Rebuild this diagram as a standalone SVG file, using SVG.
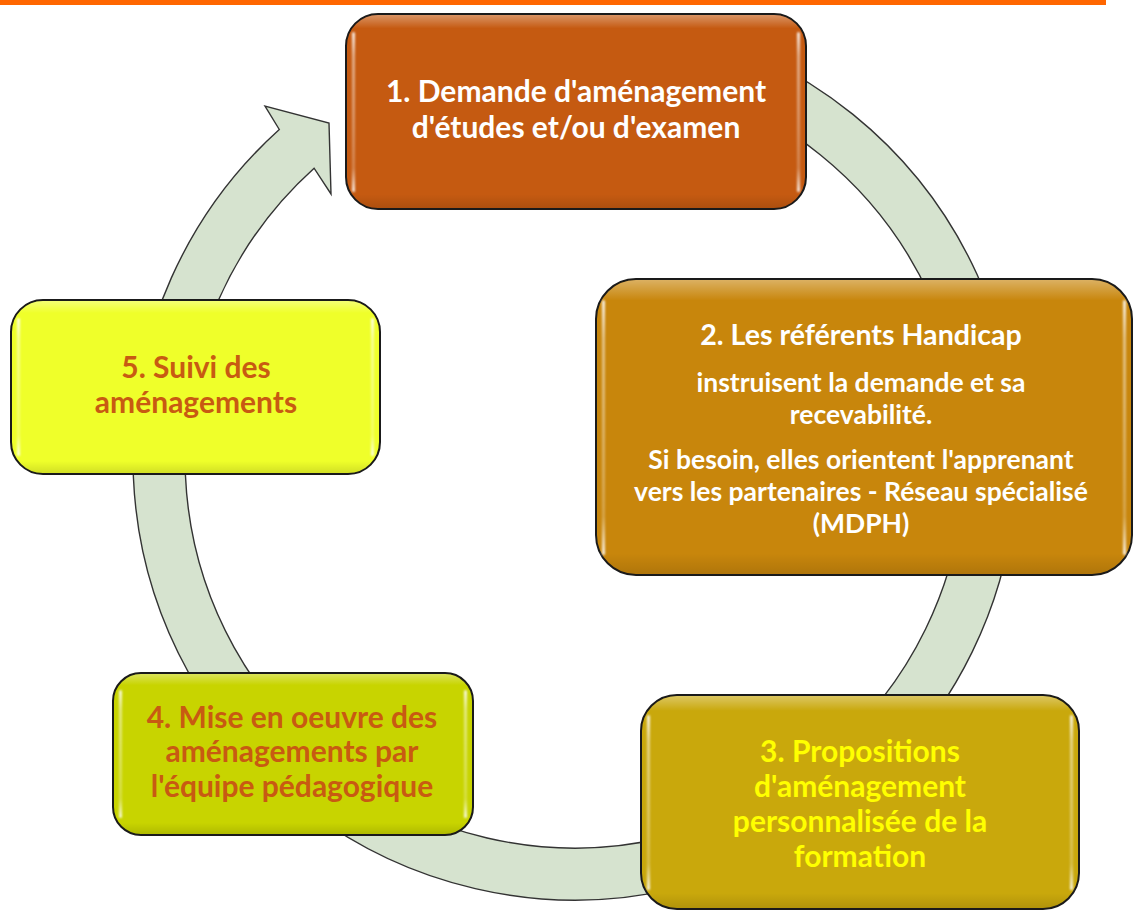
<svg xmlns="http://www.w3.org/2000/svg" width="1134" height="910" viewBox="0 0 1134 910">
<defs>
<style>
.box{stroke:#1a1a1a;stroke-width:2}
.t{font-family:Lato,"Open Sans",sans-serif;font-weight:700;text-anchor:middle}
.w{fill:#ffffff}
.y{fill:#ffff00}
.o{fill:#c85a12}
.ring{fill:#d6e3cf;stroke:#333333;stroke-width:1.4;stroke-linejoin:miter}
.hl{fill:url(#hlg)}
.top{fill:url(#topg)}
</style>
<linearGradient id="hlg" x1="0" y1="0" x2="0" y2="1">
<stop offset="0" stop-color="#ffffff" stop-opacity="0.9"/>
<stop offset="0.15" stop-color="#ffffff" stop-opacity="0.5"/>
<stop offset="0.85" stop-color="#ffffff" stop-opacity="0.25"/>
<stop offset="1" stop-color="#ffffff" stop-opacity="0.9"/>
</linearGradient>
<linearGradient id="topg" x1="0" y1="0" x2="0" y2="1">
<stop offset="0" stop-color="#ffffff" stop-opacity="0.35"/>
<stop offset="0.07" stop-color="#ffffff" stop-opacity="0"/>
<stop offset="0.93" stop-color="#000000" stop-opacity="0"/>
<stop offset="1" stop-color="#000000" stop-opacity="0.12"/>
</linearGradient>
<filter id="blur" x="-50%" y="-10%" width="200%" height="120%"><feGaussianBlur stdDeviation="1"/></filter>
</defs>
<rect x="0" y="0" width="1106" height="5" fill="#ff6600"/>
<g id="connectors">
<path class="ring" d="M689.4 31.1 A442 442 0 1 1 279.3 129.5 L265 106 L329 123 L331 194 L314.1 168.2 A390 390 0 1 0 675.9 81.3 Z"/>
</g>
<g id="node1">
<rect class="box" x="346" y="14" width="460" height="195" rx="32" fill="#c55a11"/>
<rect class="top" x="347" y="15" width="458" height="193" rx="31"/>
<rect class="hl" x="352" y="32" width="3" height="160" rx="1.5" filter="url(#blur)"/>
<rect class="hl" x="797" y="32" width="3" height="160" rx="1.5" filter="url(#blur)"/>
<text class="t w" font-size="30" x="576" y="102">1. Demande d'aménagement</text>
<text class="t w" font-size="30" x="576" y="138">d'études et/ou d'examen</text>
</g>
<g id="node2">
<rect class="box" x="596" y="279" width="536" height="296" rx="40" fill="#c8860c"/>
<rect class="top" x="597" y="280" width="534" height="294" rx="39"/>
<rect class="hl" x="602" y="300" width="3" height="255" rx="1.5" filter="url(#blur)"/>
<rect class="hl" x="1123" y="300" width="3" height="255" rx="1.5" filter="url(#blur)"/>
<text class="t w" font-size="28.6" x="861" y="345">2. Les référents Handicap</text>
<text class="t w" font-size="26.5" x="861" y="392">instruisent la demande et sa</text>
<text class="t w" font-size="26.5" x="861" y="424">recevabilité.</text>
<text class="t w" font-size="26.5" x="861" y="469">Si besoin, elles orientent l'apprenant</text>
<text class="t w" font-size="26.5" x="861" y="501">vers les partenaires - Réseau spécialisé</text>
<text class="t w" font-size="26.5" x="861" y="533">(MDPH)</text>
</g>
<g id="node3">
<rect class="box" x="641" y="695" width="438" height="214" rx="36" fill="#c9a80c"/>
<rect class="top" x="642" y="696" width="436" height="212" rx="35"/>
<rect class="hl" x="647" y="715" width="3" height="175" rx="1.5" filter="url(#blur)"/>
<rect class="hl" x="1070" y="715" width="3" height="175" rx="1.5" filter="url(#blur)"/>
<text class="t y" font-size="30" x="860" y="762">3. Propositions</text>
<text class="t y" font-size="30" x="860" y="797">d'aménagement</text>
<text class="t y" font-size="30" x="860" y="832">personnalisée de la</text>
<text class="t y" font-size="30" x="860" y="867">formation</text>
</g>
<g id="node4">
<rect class="box" x="113" y="673" width="360" height="162" rx="28" fill="#c8d400"/>
<rect class="top" x="114" y="674" width="358" height="160" rx="27"/>
<rect class="hl" x="119" y="690" width="3" height="128" rx="1.5" filter="url(#blur)"/>
<rect class="hl" x="464" y="690" width="3" height="128" rx="1.5" filter="url(#blur)"/>
<text class="t o" font-size="30" x="292" y="728">4. Mise en oeuvre des</text>
<text class="t o" font-size="30" x="292" y="762">aménagements par</text>
<text class="t o" font-size="30" x="292" y="797">l'équipe pédagogique</text>
</g>
<g id="node5">
<rect class="box" x="11" y="300" width="369" height="174" rx="32" fill="#efff2a"/>
<rect class="top" x="12" y="301" width="367" height="172" rx="31"/>
<rect class="hl" x="17" y="318" width="3" height="138" rx="1.5" filter="url(#blur)"/>
<rect class="hl" x="371" y="318" width="3" height="138" rx="1.5" filter="url(#blur)"/>
<text class="t o" font-size="30" x="196" y="378">5. Suivi des</text>
<text class="t o" font-size="30" x="196" y="413">aménagements</text>
</g>
</svg>
